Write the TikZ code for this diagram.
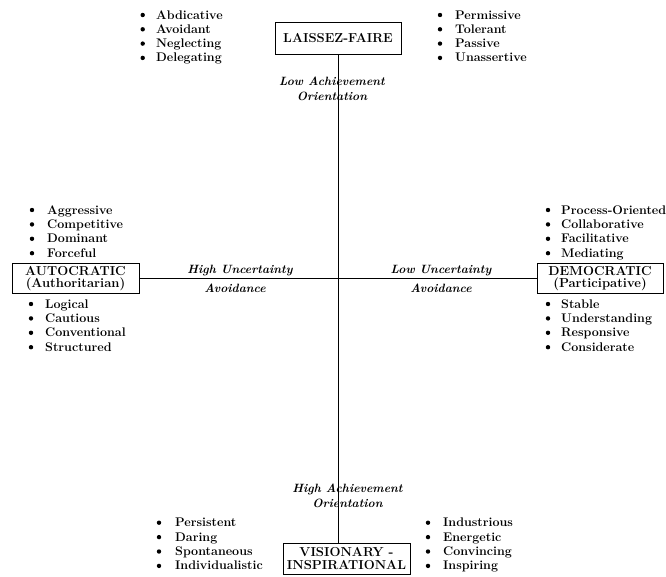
\documentclass[tikz,border=0pt]{standalone}
\begin{document}
\begin{tikzpicture}[x=1pt,y=-1pt,
  lead/.style={draw,line width=0.9pt,inner sep=1pt,align=center,font=\fontsize{13}{12.5}\selectfont\bfseries},
  trait/.style={anchor=base west,inner sep=0pt,font=\fontsize{12.5}{14}\selectfont\bfseries},
  axis/.style={inner sep=0pt,align=center,font=\fontsize{12}{15}\selectfont\bfseries\itshape}]
\useasboundingbox (0,0) rectangle (666,576);
% the four styles
\node[lead,minimum width=126,minimum height=32] (laissez) at (338,38.3) {LAISSEZ-FAIRE};
\node[lead,minimum width=127,minimum height=30] (autocratic) at (75.5,278.5) {AUTOCRATIC\\(Authoritarian)};
\node[lead,minimum width=126,minimum height=30] (democratic) at (600,278.5) {DEMOCRATIC\\(Participative)};
\node[lead,minimum width=127,minimum height=31] (visionary) at (346.5,558.5) {VISIONARY -\\INSPIRATIONAL};
% axes
\draw[line width=0.9pt] (laissez.south) -- (laissez.south |- visionary.north);
\draw[line width=0.9pt] (autocratic.east) -- (democratic.west);
\node[axis] (lowach) at (332,89) {Low Achievement\\Orientation};
\node[axis] (highach) at (347.5,495.7) {High Achievement\\Orientation};
\node[axis] (hiunc) at (240,271) {High Uncertainty};
\node[axis] (hiavoid) at (235,288) {Avoidance};
\node[axis] (lounc) at (441,271) {Low Uncertainty};
\node[axis] (loavoid) at (441,288) {Avoidance};
% trait lists
\foreach \t [count=\i from 0] in {Abdicative,Avoidant,Neglecting,Delegating}{
  \fill (142.7,{15+14.3*\i}) circle (2.2);
  \node[trait] (laisA\i) at (156,{19+14.3*\i}) {\t};
}
\foreach \t [count=\i from 0] in {Permissive,Tolerant,Passive,Unassertive}{
  \fill (440,{15+14.3*\i}) circle (2.2);
  \node[trait] (laisB\i) at (455,{19+14.3*\i}) {\t};
}
\foreach \t [count=\i from 0] in {Aggressive,Competitive,Dominant,Forceful}{
  \fill (32,{210+14.4*\i}) circle (2.2);
  \node[trait] (autoA\i) at (47,{214+14.4*\i}) {\t};
}
\foreach \t [count=\i from 0] in {Logical,Cautious,Conventional,Structured}{
  \fill (31,{304+14.4*\i}) circle (2.2);
  \node[trait] (autoB\i) at (45,{308+14.4*\i}) {\t};
}
\foreach \t [count=\i from 0] in {Process-Oriented,Collaborative,Facilitative,Mediating}{
  \fill (548,{210+14.4*\i}) circle (2.2);
  \node[trait] (demoA\i) at (561,{214+14.4*\i}) {\t};
}
\foreach \t [count=\i from 0] in {Stable,Understanding,Responsive,Considerate}{
  \fill (548,{304+14.4*\i}) circle (2.2);
  \node[trait] (demoB\i) at (561,{308+14.4*\i}) {\t};
}
\foreach \t [count=\i from 0] in {Persistent,Daring,Spontaneous,Individualistic}{
  \fill (159,{522.7+14.4*\i}) circle (2.2);
  \node[trait] (visA\i) at (175,{526.7+14.4*\i}) {\t};
}
\foreach \t [count=\i from 0] in {Industrious,Energetic,Convincing,Inspiring}{
  \fill (428,{522.7+14.4*\i}) circle (2.2);
  \node[trait] (visB\i) at (443,{526.7+14.4*\i}) {\t};
}
\end{tikzpicture}
\end{document}
